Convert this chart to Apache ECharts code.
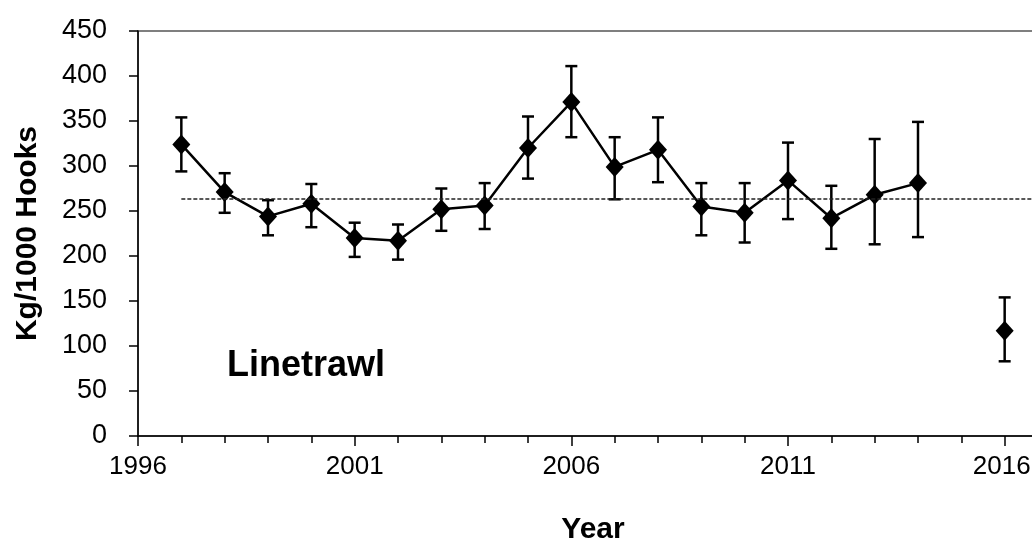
<!DOCTYPE html>
<html>
<head>
<meta charset="utf-8">
<script src="https://cdn.jsdelivr.net/npm/echarts@6/dist/echarts.min.js"></script>
<style>
  html, body { margin: 0; padding: 0; background: #fff; }
  #main { width: 1032px; height: 546px; }
</style>
</head>
<body>
<div id="main"></div>
<script>
// values
const years = [1997, 1998, 1999, 2000, 2001, 2002, 2003, 2004, 2005, 2006, 2007, 2008, 2009, 2010, 2011, 2012, 2013, 2014, 2016];
const catch1000 = [324, 271, 244, 258, 220, 217, 252, 256, 320, 371, 299, 318, 255, 248, 284, 242, 268, 281, 117];
const upper = [354, 292, 262, 280, 237, 235, 275, 281, 355, 411, 332, 354, 281, 281, 326, 278, 330, 349, 154];
const lower = [294, 248, 223, 232, 199, 196, 228, 230, 286, 332, 263, 282, 223, 215, 241, 208, 213, 221, 83];
const meanLevel = 264;
const yTicks = [0, 50, 100, 150, 200, 250, 300, 350, 400, 450];

const chart = echarts.init(document.getElementById('main'));

// the 1997-2014 run is joined, 2016 stands alone
const lineData = [];
const aloneData = [];
years.forEach(function (y, i) {
    if (y <= 2014) lineData.push([y, catch1000[i]]);
    else aloneData.push([y, catch1000[i]]);
});
const errData = years.map(function (y, i) { return [y, lower[i], upper[i]]; });

function drawErr(params, api) {
    const lo = api.coord([api.value(0), api.value(1)]);
    const hi = api.coord([api.value(0), api.value(2)]);
    const half = 6;
    const st = { stroke: '#000', lineWidth: 2.5 };
    return {
        type: 'group',
        children: [
            { type: 'line', shape: { x1: lo[0], y1: lo[1], x2: hi[0], y2: hi[1] }, style: st },
            { type: 'line', shape: { x1: hi[0] - half, y1: hi[1], x2: hi[0] + half, y2: hi[1] }, style: st },
            { type: 'line', shape: { x1: lo[0] - half, y1: lo[1], x2: lo[0] + half, y2: lo[1] }, style: st }
        ]
    };
}

const font = '"Liberation Sans", Arial, sans-serif';

const option = {
    animation: false,
    backgroundColor: '#fff',
    grid: {
        left: 138,
        top: 31,
        bottom: 110,
        right: -16,
        outerBoundsMode: 'none',
        show: true,
        borderColor: '#555',
        borderWidth: 1.5
    },
    xAxis: {
        type: 'value',
        min: 1996,
        max: 2017,
        interval: 5,
        name: 'Year',
        nameLocation: 'middle',
        nameGap: 79,
        nameTextStyle: { fontFamily: font, fontSize: 30, fontWeight: 'bold', color: '#000' },
        axisLine: { show: true, lineStyle: { color: '#000', width: 1.5 } },
        axisTick: { show: true, length: 10, lineStyle: { color: '#000', width: 1.5 } },
        minorTick: { show: true, splitNumber: 5, length: 7, lineStyle: { color: '#000', width: 1.5 } },
        splitLine: { show: false },
        axisLabel: {
            margin: 18,
            fontFamily: font, fontSize: 26, color: '#000',
            showMaxLabel: false,
            formatter: function (v) {
                if ((v - 1996) % 5 !== 0) return '';
                // last label sits at the page edge, nudge it in a little
                return v === 2016 ? '{edge|' + v + '}' : String(v);
            },
            rich: {
                edge: { fontFamily: font, fontSize: 26, color: '#000', padding: [0, 6, 0, 0] }
            }
        }
    },
    yAxis: {
        type: 'value',
        min: yTicks[0],
        max: yTicks[yTicks.length - 1],
        interval: 50,
        name: 'Kg/1000 Hooks',
        nameLocation: 'middle',
        nameGap: 95,
        nameTextStyle: { fontFamily: font, fontSize: 30, fontWeight: 'bold', color: '#000' },
        axisLine: { show: true, lineStyle: { color: '#000', width: 1.5 } },
        axisTick: { show: true, length: 9, lineStyle: { color: '#000', width: 1.5 } },
        splitLine: { show: false },
        axisLabel: { margin: 31, fontFamily: font, fontSize: 27, color: '#000' }
    },
    graphic: [
        {
            type: 'text',
            x: 227,
            y: 366,
            style: {
                text: 'Linetrawl', fontFamily: font, fontSize: 36, fontWeight: 'bold',
                fill: '#000', verticalAlign: 'middle'
            }
        }
    ],
    series: [
        {
            type: 'custom',
            renderItem: drawErr,
            data: errData,
            z: 2
        },
        {
            type: 'line',
            data: lineData,
            symbol: 'diamond',
            symbolSize: [18, 20],
            itemStyle: { color: '#000' },
            lineStyle: { color: '#000', width: 2.5 },
            z: 3,
            markLine: {
                silent: true,
                symbol: 'none',
                label: { show: false },
                lineStyle: { color: '#222', type: [4, 2], width: 1.5 },
                data: [[{ coord: [1997, meanLevel] }, { coord: [2017, meanLevel] }]]
            }
        },
        {
            type: 'scatter',
            data: aloneData,
            symbol: 'diamond',
            symbolSize: [18, 20],
            itemStyle: { color: '#000', opacity: 1 },
            z: 3
        }
    ]
};

chart.setOption(option);
</script>
</body>
</html>
